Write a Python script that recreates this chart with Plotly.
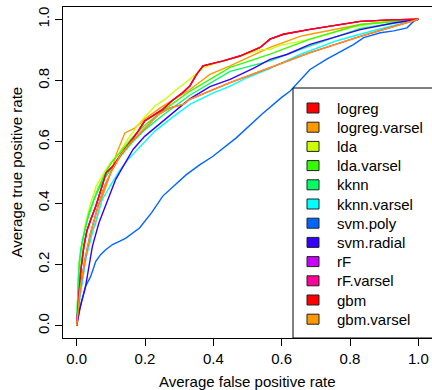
import plotly.graph_objects as go

# ---- data ----
series_names = ["logreg", "logreg.varsel", "lda", "lda.varsel", "kknn", "kknn.varsel",
                "svm.poly", "svm.radial", "rF", "rF.varsel", "gbm", "gbm.varsel"]
series_colors = ["#FF0000", "#FF9900", "#CCFF00", "#33FF00", "#00FF66", "#00FFFF",
                 "#0066FF", "#3300FF", "#CC00FF", "#FF0099", "#FF0000", "#FF9900"]

logreg_fpr = [0, 0.005, 0.012, 0.021, 0.03, 0.041, 0.056, 0.07, 0.086, 0.106, 0.13, 0.155, 0.18,
              0.199, 0.23, 0.252, 0.28, 0.31, 0.331, 0.351, 0.37, 0.429, 0.478, 0.537, 0.566,
              0.605, 0.683, 0.83, 0.92, 1.0]
logreg_tpr = [0, 0.09, 0.18, 0.259, 0.31, 0.346, 0.39, 0.44, 0.499, 0.52, 0.56, 0.597, 0.635,
              0.668, 0.69, 0.706, 0.735, 0.76, 0.782, 0.82, 0.848, 0.864, 0.88, 0.908, 0.935,
              0.951, 0.967, 0.993, 0.998, 1.0]

logreg_varsel_fpr = [0, 0.01, 0.02, 0.026, 0.041, 0.056, 0.075, 0.1, 0.116, 0.141, 0.17, 0.2,
                     0.25, 0.3, 0.331, 0.39, 0.449, 0.566, 0.654, 0.683, 0.83, 1.0]
logreg_varsel_tpr = [0, 0.1, 0.17, 0.216, 0.293, 0.335, 0.42, 0.5, 0.56, 0.629, 0.645, 0.675,
                     0.715, 0.75, 0.77, 0.82, 0.848, 0.908, 0.944, 0.951, 0.983, 1.0]

lda_fpr = [0, 0.007, 0.015, 0.025, 0.041, 0.051, 0.057, 0.07, 0.086, 0.105, 0.125, 0.15, 0.184,
           0.229, 0.26, 0.287, 0.331, 0.371, 0.429, 0.478, 0.537, 0.566, 0.595, 0.683, 0.81,
           0.9, 1.0]
lda_tpr = [0, 0.13, 0.24, 0.33, 0.401, 0.433, 0.455, 0.48, 0.51, 0.54, 0.564, 0.61, 0.662,
           0.717, 0.74, 0.766, 0.804, 0.842, 0.865, 0.879, 0.9, 0.902, 0.915, 0.935, 0.975,
           0.993, 1.0]

lda_varsel_fpr = [0, 0.007, 0.017, 0.036, 0.061, 0.08, 0.1, 0.13, 0.16, 0.2, 0.25, 0.3, 0.331,
                  0.449, 0.566, 0.683, 0.83, 1.0]
lda_varsel_tpr = [0, 0.205, 0.281, 0.368, 0.444, 0.49, 0.53, 0.57, 0.61, 0.655, 0.7, 0.74, 0.765,
                  0.843, 0.886, 0.935, 0.983, 1.0]

kknn_fpr = [0, 0.005, 0.012, 0.03, 0.05, 0.075, 0.1, 0.13, 0.16, 0.2, 0.25, 0.3, 0.331, 0.449,
            0.566, 0.683, 0.83, 1.0]
kknn_tpr = [0, 0.16, 0.25, 0.34, 0.41, 0.47, 0.51, 0.555, 0.595, 0.64, 0.685, 0.725, 0.752, 0.83,
            0.864, 0.913, 0.97, 1.0]

kknn_varsel_fpr = [0, 0.005, 0.013, 0.027, 0.051, 0.075, 0.1, 0.125, 0.15, 0.19, 0.229, 0.28,
                   0.331, 0.4, 0.449, 0.5, 0.566, 0.654, 0.761, 0.859, 0.947, 1.0]
kknn_varsel_tpr = [0, 0.06, 0.118, 0.22, 0.324, 0.412, 0.46, 0.505, 0.542, 0.59, 0.635, 0.68,
                   0.722, 0.76, 0.782, 0.81, 0.84, 0.885, 0.93, 0.96, 0.985, 1.0]

svm_poly_fpr = [0, 0.013, 0.026, 0.041, 0.056, 0.07, 0.085, 0.105, 0.125, 0.144, 0.184, 0.22,
                0.252, 0.29, 0.321, 0.36, 0.399, 0.467, 0.542, 0.6, 0.625, 0.683, 0.732, 0.81,
                0.84, 0.889, 0.928, 0.967, 0.986, 1.0]
svm_poly_tpr = [0, 0.074, 0.128, 0.161, 0.21, 0.232, 0.248, 0.265, 0.275, 0.286, 0.319, 0.37,
                0.423, 0.46, 0.493, 0.525, 0.553, 0.613, 0.69, 0.745, 0.766, 0.836, 0.87, 0.917,
                0.94, 0.956, 0.962, 0.972, 0.993, 1.0]

svm_radial_fpr = [0, 0.008, 0.026, 0.046, 0.065, 0.09, 0.114, 0.131, 0.165, 0.199, 0.25, 0.3,
                  0.331, 0.39, 0.449, 0.517, 0.566, 0.615, 0.683, 0.83, 0.928, 1.0]
svm_radial_tpr = [0, 0.05, 0.128, 0.259, 0.335, 0.41, 0.477, 0.51, 0.575, 0.618, 0.665, 0.71,
                  0.74, 0.78, 0.804, 0.84, 0.869, 0.885, 0.918, 0.966, 0.988, 1.0]

gbm_fpr = logreg_fpr
gbm_tpr = logreg_tpr

gbm_varsel_fpr = [0, 0.01, 0.025, 0.04, 0.06, 0.08, 0.1, 0.13, 0.16, 0.2, 0.24, 0.273, 0.312,
                  0.331, 0.449, 0.566, 0.683, 0.83, 0.928, 1.0]
gbm_varsel_tpr = [0, 0.12, 0.22, 0.3, 0.38, 0.45, 0.5, 0.56, 0.6, 0.645, 0.69, 0.711, 0.722,
                  0.739, 0.793, 0.842, 0.891, 0.944, 0.977, 1.0]

rf_fpr = gbm_fpr
rf_tpr = gbm_tpr
rf_varsel_fpr = gbm_varsel_fpr
rf_varsel_tpr = gbm_varsel_tpr

series_fpr = [logreg_fpr, logreg_varsel_fpr, lda_fpr, lda_varsel_fpr, kknn_fpr, kknn_varsel_fpr,
              svm_poly_fpr, svm_radial_fpr, rf_fpr, rf_varsel_fpr, gbm_fpr, gbm_varsel_fpr]
series_tpr = [logreg_tpr, logreg_varsel_tpr, lda_tpr, lda_varsel_tpr, kknn_tpr, kknn_varsel_tpr,
              svm_poly_tpr, svm_radial_tpr, rf_tpr, rf_varsel_tpr, gbm_tpr, gbm_varsel_tpr]

tick_vals = [0, 0.2, 0.4, 0.6, 0.8, 1.0]
tick_text = ["0.0", "0.2", "0.4", "0.6", "0.8", "1.0"]
x_title = "Average false positive rate"
y_title = "Average true positive rate"

FONT = "Liberation Sans, Arial, Helvetica, sans-serif"
FS = 15

W, H = 432, 390
ML, MR, MT, MB = 63, 0, 7, 52
PW, PH = W - ML - MR, H - MT - MB


def px_x(px):
    return (px - ML) / PW


def px_y(py):
    return (H - MB - py) / PH


fig = go.Figure()
for name, col, xs, ys in zip(series_names, series_colors, series_fpr, series_tpr):
    fig.add_trace(go.Scatter(x=xs, y=ys, mode="lines", line=dict(color=col, width=1.4),
                             name=name, showlegend=False, hoverinfo="skip"))

# R-style legend (bottom-right box with filled squares)
shapes = [dict(type="rect", xref="paper", yref="paper", x0=px_x(293), x1=1.03,
               y0=px_y(338), y1=px_y(88), line=dict(color="black", width=1),
               fillcolor="white", layer="above")]
annotations = []
row0, row_gap = 108, 19.2
for i, (name, col) in enumerate(zip(series_names, series_colors)):
    cy = row0 + i * row_gap
    shapes.append(dict(type="rect", xref="paper", yref="paper", x0=px_x(307), x1=px_x(319),
                       y0=px_y(cy + 5), y1=px_y(cy - 5), fillcolor=col,
                       line=dict(color="#222222", width=1), layer="above"))
    annotations.append(dict(text=name, xref="paper", yref="paper", x=px_x(335), y=px_y(cy),
                            xanchor="left", yanchor="middle", showarrow=False,
                            font=dict(family=FONT, size=FS, color="black")))

annotations += [
    dict(text=x_title, xref="paper", yref="paper", x=0.5, y=0, yshift=-43,
         xanchor="center", yanchor="middle", showarrow=False,
         font=dict(family=FONT, size=FS)),
    dict(text=y_title, xref="paper", yref="paper", x=0, y=0.5, xshift=-47,
         xanchor="center", yanchor="middle", textangle=-90, showarrow=False,
         font=dict(family=FONT, size=FS)),
]

axis_common = dict(showgrid=False, zeroline=False, showline=True, mirror=True,
                   linecolor="black", linewidth=1, ticks="outside", ticklen=7,
                   tickcolor="black", tickwidth=1, tickvals=tick_vals, ticktext=tick_text,
                   tickfont=dict(family=FONT, size=FS, color="black"), automargin=False)

fig.update_layout(
    width=W, height=H,
    margin=dict(l=ML, r=MR, t=MT, b=MB, autoexpand=False),
    paper_bgcolor="white", plot_bgcolor="white",
    font=dict(family=FONT, size=FS, color="black"),
    xaxis=dict(range=[-0.04, 1.04], **axis_common),
    yaxis=dict(range=[-0.04, 1.04], tickangle=-90, **axis_common),
    showlegend=False,
    shapes=shapes,
    annotations=annotations,
)

fig.write_html("out.html", config={"displayModeBar": False},
               post_script="document.body.style.margin='0';")
